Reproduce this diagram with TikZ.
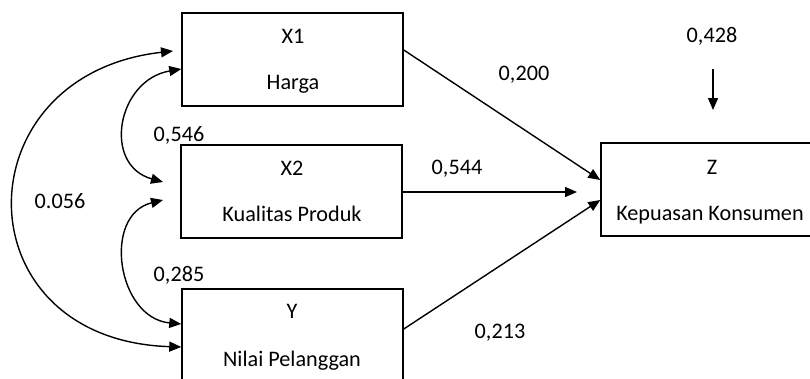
\documentclass[tikz,border=0pt]{standalone}
\usepackage{fontspec}
\setmainfont{Carlito}
\usetikzlibrary{arrows.meta,calc}
\begin{document}
\begin{tikzpicture}[x=1pt,y=-1pt,
  box/.style={draw=black, line width=1.5pt, minimum width=221pt, minimum height=93pt, inner sep=0pt},
  lbl/.style={anchor=base, inner sep=0pt, font=\fontsize{22.2}{26}\selectfont},
  conn/.style={line width=1.4pt, -{Triangle[length=12pt,width=10pt]}},
  dconn/.style={line width=1.4pt, {Triangle[length=12pt,width=10pt]}-{Triangle[length=12pt,width=10pt]}}]
\path[use as bounding box] (0,0) rectangle (810,378);
\clip (0,0) rectangle (810,378);
% boxes
\node[box] (X1) at (292.5,59.5) {};
\node[box] (X2) at (291.5,191.5) {};
\node[box] (Y) at (292.5,335.5) {};
\node[box] (Z) at (711.5,189.5) {};
% box texts
\node[lbl] (tX1) at (293,43) {X1};
\node[lbl] (tH) at (293,89) {Harga};
\node[lbl] (tX2) at (292,175) {X2};
\node[lbl] (tKP) at (292,221) {Kualitas Produk};
\node[lbl] (tY) at (292,318) {Y};
\node[lbl] (tNP) at (292,366) {Nilai Pelanggan};
\node[lbl] (tZ) at (712,174) {Z};
\node[lbl] (tKK) at (710,220) {Kepuasan Konsumen};
% coefficient labels
\node[lbl] (l428) at (712,42) {0,428};
\node[lbl] (l200) at (524,80) {0,200};
\node[lbl] (l544) at (457,174) {0,544};
\node[lbl] (l213) at (500,338) {0,213};
\node[lbl] (l546) at (179,141) {0,546};
\node[lbl] (l056) at (60,208) {0.056};
\node[lbl] (l285) at (179,281) {0,285};
% free ends
\coordinate (x2end) at (577,192);
\coordinate (etop) at (713,69);
\coordinate (ebot) at (713,110);
\coordinate (o1) at (173,51);
\coordinate (i1) at (163,182);
\coordinate (i2) at (163,200);
% paths to Z
\draw[conn] ($(X1.east)+(0,-9.5)$) -- ($(Z.west)+(0,-9.5)$);
\draw[conn] ($(X2.east)+(0,0.5)$) -- (x2end);
\draw[conn] ($(Y.east)+(0,-6.5)$) -- ($(Z.west)+(0,10.5)$);
\draw[conn] (etop) -- (ebot);
% correlations
\draw[dconn] (o1) .. controls (-40,75) and (-40,340) .. ($(Y.west)+(0,11.5)$);
\draw[dconn] ($(X1.west)+(0,9.5)$) .. controls (117,80) and (102,165) .. (i1);
\draw[dconn] (i2) .. controls (102,215) and (117,318) .. ($(Y.west)+(0,-11.5)$);
\end{tikzpicture}
\end{document}
